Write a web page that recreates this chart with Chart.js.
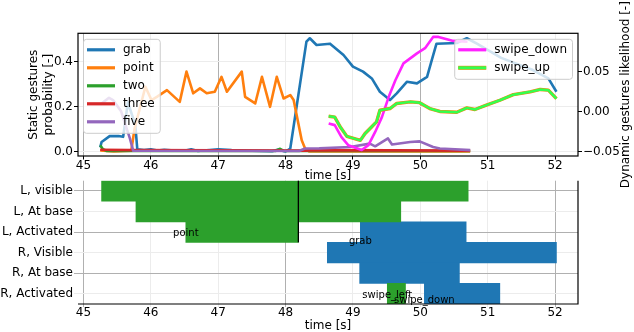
<!DOCTYPE html>
<html><head><meta charset="utf-8">
<script src="https://cdn.jsdelivr.net/npm/chart.js@4"></script>
<style>
html,body{margin:0;padding:0;background:#fff;}
#wrap{position:relative;width:634px;height:332px;background:#fff;}
canvas{position:absolute;left:0;top:0;}
</style></head><body>
<div id="wrap"><canvas id="top" width="634" height="332"></canvas><canvas id="bot" width="634" height="332"></canvas></div>
<script>
// ---------- tick labels ----------
const xTicks = [45, 46, 47, 48, 49, 50, 51, 52];
const xMajorTop = [45, 47, 50];
const xMajorBottom = [45, 48, 52];
const yTicksLeft = [0, 0.2, 0.4];
const yTicksRight = [-0.05, 0, 0.05];

// ---------- static gestures (left axis) ----------
const grabT = [45.25,45.27,45.39,45.52,45.59,45.66,45.77,45.80,45.9,46.0,46.1,46.2,46.35,46.5,46.6,46.7,47.0,47.2,47.5,47.8,47.88,48.0,48.07,48.31,48.36,48.46,48.66,48.86,49.0,49.15,49.28,49.40,49.55,49.65,49.8,49.95,50.1,50.17,50.24,50.54,50.69,50.84,51.2,51.67,51.9,52.02];
const grabV = [0.02,0.044,0.07,0.071,0.067,0.22,0.12,0.012,0.008,0.012,0.006,0.01,0.006,0.005,0.012,0.004,0.012,0.008,0.005,0.003,0.01,0.002,0.015,0.489,0.504,0.474,0.48,0.43,0.378,0.356,0.326,0.267,0.23,0.26,0.311,0.304,0.333,0.407,0.48,0.483,0.504,0.48,0.417,0.363,0.326,0.267];

const pointT = [45.25,45.45,45.71,45.76,45.92,46.01,46.09,46.24,46.43,46.53,46.63,46.73,46.83,46.95,47.05,47.13,47.35,47.4,47.55,47.65,47.77,47.87,47.97,48.07,48.12,48.24,48.29,48.35,50.74];
const pointV = [0.007,0.002,0.005,0.104,0.289,0.23,0.244,0.274,0.222,0.356,0.26,0.282,0.26,0.267,0.333,0.267,0.356,0.244,0.215,0.333,0.2,0.333,0.237,0.252,0.23,0.052,0.015,0.002,0.002];

const twoT = [45.25,45.29,45.35,47.85,47.92,47.98,50.74];
const twoV = [0.03,0.012,0.004,0.004,0.014,0.004,0.004];

const threeT = [45.25,45.7,48.3,48.4,50.74];
const threeV = [0.01,0.008,0.006,0.008,0.006];

const fiveT = [45.25,45.38,45.44,45.56,45.61,45.69,45.74,48.2,48.29,48.5,48.96,49.25,49.33,49.52,49.58,49.85,49.99,50.19,50.29,50.74];
const fiveV = [0.21,0.24,0.23,0.18,0.133,0.06,0.005,0.004,0.015,0.016,0.022,0.037,0.025,0.06,0.033,0.044,0.047,0.022,0.015,0.008];

// ---------- dynamic gestures (right axis) ----------
const swipeDownT = [48.64,48.73,48.83,48.93,49.13,49.23,49.33,49.43,49.53,49.63,49.75,49.95,50.07,50.19,50.27,50.49,50.7];
const swipeDownV = [-0.015,-0.017,-0.032,-0.042,-0.048,-0.042,-0.0255,-0.007,0.018,0.039,0.06,0.0725,0.079,0.093,0.093,0.088,0.087];

const swipeUpT = [48.64,48.73,48.81,48.91,49.11,49.18,49.28,49.35,49.40,49.55,49.65,49.85,49.99,50.14,50.29,50.54,50.69,50.81,50.98,51.18,51.38,51.63,51.78,51.9,52.02];
const swipeUpV = [-0.006,-0.007,-0.019,-0.031,-0.036,-0.0275,-0.019,-0.013,0.0016,0.0037,0.01,0.012,0.011,0.0037,0.0,-0.001,0.0045,0.0025,0.008,0.014,0.021,0.0245,0.0275,0.0266,0.016];

// ---------- state timeline (bottom) ----------
const categories = ['L, visible', 'L, At base', 'L, Activated', 'R, Visible', 'R, At base', 'R, Activated'];
const greenStart = [45.27, 45.78, 46.52, null, null, 49.51];
const greenEnd   = [50.71, 49.71, 48.19, null, null, 49.78];
const blueStart  = [null, null, 49.11, 48.62, 49.10, 50.06];
const blueEnd    = [null, null, 50.68, 52.02, 50.58, 51.18];
const eventNames = ['point', 'grab', 'swipe_left', 'swipe_down'];
const eventTimes = [46.52, 49.11, 49.51, 50.06];
const eventRows  = [2, 2, 5, 5];
const markerTime = 48.19;
const markerLastRow = 2;

// ---------- helpers ----------
const FONT = "'DejaVu Sans', 'Liberation Sans', sans-serif";
Chart.defaults.font.family = FONT;
Chart.defaults.font.size = 12;
Chart.defaults.color = '#000';
const GRID_MAJOR = '#b0b0b0';
const GRID_MINOR = '#ececec';
const xy = (t, v) => t.map((x, i) => ({x: x, y: v[i]}));
const fmtMinus = s => s.replace('-', '\u2212');

function line(label, t, v, color, axis, order, width) {
  return {label, data: xy(t, v), borderColor: color, backgroundColor: color,
    borderWidth: width || 2.6, pointRadius: 0, yAxisID: axis, order,
    tension: 0, fill: false, borderJoinStyle: 'round', borderCapStyle: 'butt'};
}

const topDatasets = [
  line('swipe_up', swipeUpT, swipeUpV, '#33ff4d', 'y2', 0, 2.5),
  Object.assign(line('swipe_up', swipeUpT, swipeUpV, '#ff7f0e', 'y2', 1, 3.4), {outlineOnly: true}),
  line('swipe_down', swipeDownT, swipeDownV, '#ff22ff', 'y2', 2),
  line('five', fiveT, fiveV, '#9467bd', 'y', 3),
  line('three', threeT, threeV, '#d62728', 'y', 4),
  line('two', twoT, twoV, '#2ca02c', 'y', 5),
  line('point', pointT, pointV, '#ff7f0e', 'y', 6),
  line('grab', grabT, grabV, '#1f77b4', 'y', 7),
];

function roundRectPath(ctx, x, y, w, h, r) {
  ctx.beginPath();
  ctx.moveTo(x + r, y);
  ctx.lineTo(x + w - r, y); ctx.arcTo(x + w, y, x + w, y + r, r);
  ctx.lineTo(x + w, y + h - r); ctx.arcTo(x + w, y + h, x + w - r, y + h, r);
  ctx.lineTo(x + r, y + h); ctx.arcTo(x, y + h, x, y + h - r, r);
  ctx.lineTo(x, y + r); ctx.arcTo(x, y, x + r, y, r);
  ctx.closePath();
}

function drawLegendBox(ctx, x, y, items, alignRight) {
  ctx.save();
  ctx.font = '12px ' + FONT;
  const pad = 4, handle = 28, gap = 8, padR = 5, rowH = 18, padTop = 11;
  const tw = Math.max(...items.map(it => ctx.measureText(it.label).width));
  const w = pad + handle + gap + tw + padR;
  const h = padTop * 2 + rowH * (items.length - 1);
  const left = alignRight ? x - w : x;
  roundRectPath(ctx, left + 0.5, y + 0.5, w, h, 3);
  ctx.fillStyle = 'rgba(255,255,255,0.8)';
  ctx.fill();
  ctx.strokeStyle = '#cccccc';
  ctx.lineWidth = 1;
  ctx.stroke();
  items.forEach((it, i) => {
    const cy = y + padTop + i * rowH;
    const x0 = left + pad, x1 = left + pad + handle;
    if (it.outline) {
      ctx.beginPath(); ctx.moveTo(x0, cy); ctx.lineTo(x1, cy);
      ctx.strokeStyle = it.outline; ctx.lineWidth = 4; ctx.stroke();
    }
    ctx.beginPath(); ctx.moveTo(x0, cy); ctx.lineTo(x1, cy);
    ctx.strokeStyle = it.color; ctx.lineWidth = it.outline ? 3 : 3.2; ctx.stroke();
    ctx.fillStyle = '#000';
    ctx.textBaseline = 'middle';
    ctx.textAlign = 'left';
    ctx.fillText(it.label, x1 + gap, cy);
  });
  ctx.restore();
}

const topDeco = {
  id: 'topDeco',
  afterDatasetsDraw(chart) {
    const ctx = chart.ctx, a = chart.chartArea;
    const ds = chart.data.datasets;
    const find = (lab, outline) => ds.find(d => d.label === lab && !!d.outlineOnly === !!outline);
    const leftItems = ['grab', 'point', 'two', 'three', 'five'].map(l => ({label: l, color: find(l).borderColor}));
    const rightItems = [
      {label: 'swipe_down', color: find('swipe_down').borderColor},
      {label: 'swipe_up', color: find('swipe_up').borderColor, outline: find('swipe_up', true).borderColor}
    ];
    drawLegendBox(ctx, a.left + 5, a.top + 5.5, leftItems, false);
    drawLegendBox(ctx, a.right - 6, a.top + 5.5, rightItems, true);
  },
  afterDraw(chart) {
    const ctx = chart.ctx, a = chart.chartArea;
    ctx.save();
    ctx.strokeStyle = '#000';
    ctx.lineWidth = 1.2;
    ctx.strokeRect(a.left, a.top, a.right - a.left, a.bottom - a.top);
    ctx.translate(626, (a.top + a.bottom) / 2);
    ctx.rotate(-Math.PI / 2);
    ctx.font = '12px ' + FONT;
    ctx.fillStyle = '#000';
    ctx.textAlign = 'center';
    ctx.textBaseline = 'middle';
    ctx.fillText('Dynamic gestures likelihood [-]', 0, 0);
    ctx.restore();
  }
};

new Chart(document.getElementById('top'), {
  type: 'line',
  data: {datasets: topDatasets},
  options: {
    responsive: false, animation: false, events: [],
    layout: {padding: {left: 0, right: 0, top: 33.3, bottom: 149.3}},
    plugins: {legend: {display: false}, tooltip: {enabled: false}},
    scales: {
      x: {
        type: 'linear', min: 44.92, max: 52.34,
        afterBuildTicks: s => { s.ticks = xTicks.map(v => ({value: v})); },
        afterFit: s => { s.height = 26.7; },
        ticks: {callback: v => String(v), maxRotation: 0, autoSkip: false, padding: -1},
        grid: {color: c => xMajorTop.includes(c.tick && c.tick.value) ? GRID_MAJOR : GRID_MINOR, tickColor: '#000', tickLength: 3.5, lineWidth: 1},
        border: {display: false},
        title: {display: true, text: 'time [s]', padding: 0, font: {size: 12}}
      },
      y: {
        type: 'linear', position: 'left', min: -0.018, max: 0.526,
        afterBuildTicks: s => { s.ticks = yTicksLeft.map(v => ({value: v})); },
        afterFit: s => { s.width = 78; },
        ticks: {callback: v => v.toFixed(1), padding: 1},
        grid: {color: GRID_MINOR, tickColor: '#000', tickLength: 4},
        border: {display: false},
        title: {display: true, text: ['Static gestures', 'probability [-]'], padding: {top: 26, bottom: 0}, font: {size: 12, lineHeight: 1.25}}
      },
      y2: {
        type: 'linear', position: 'right', min: -0.0555, max: 0.0975,
        afterBuildTicks: s => { s.ticks = yTicksRight.map(v => ({value: v})); },
        afterFit: s => { s.width = 56; },
        ticks: {callback: v => fmtMinus(v.toFixed(2)), padding: 1},
        grid: {drawOnChartArea: false, tickColor: '#000', tickLength: 4},
        border: {display: false}
      }
    }
  },
  plugins: [topDeco]
});

// ---------- bottom chart ----------
const rangeOf = (s, e) => s.map((v, i) => v === null ? null : [v, e[i]]);

const botDeco = {
  id: 'botDeco',
  afterDatasetsDraw(chart) {
    const ctx = chart.ctx, a = chart.chartArea;
    const xs = chart.scales.x, ys = chart.scales.y;
    ctx.save();
    ctx.strokeStyle = '#000';
    ctx.lineWidth = 1.3;
    const px = xs.getPixelForValue(markerTime);
    ctx.beginPath();
    ctx.moveTo(px, a.top);
    ctx.lineTo(px, ys.getPixelForValue(markerLastRow + 0.5));
    ctx.stroke();
    ctx.restore();
  },
  afterDraw(chart) {
    const ctx = chart.ctx, a = chart.chartArea;
    const xs = chart.scales.x, ys = chart.scales.y;
    ctx.save();
    ctx.strokeStyle = '#000';
    ctx.lineWidth = 1.2;
    ctx.beginPath();
    ctx.moveTo(a.right, a.top);
    ctx.lineTo(a.right, a.bottom);
    ctx.lineTo(a.left, a.bottom);
    ctx.stroke();
    const dy = [1, 9, 1.5, 7];
    ctx.font = '10px ' + FONT;
    ctx.fillStyle = '#000';
    ctx.textAlign = 'center';
    ctx.textBaseline = 'middle';
    eventNames.forEach((n, i) => {
      ctx.fillText(n, xs.getPixelForValue(eventTimes[i]), ys.getPixelForValue(eventRows[i]) + dy[i]);
    });
    ctx.restore();
  }
};

new Chart(document.getElementById('bot'), {
  type: 'bar',
  data: {
    labels: categories,
    datasets: [
      {label: 'left', data: rangeOf(greenStart, greenEnd), backgroundColor: '#2ca02c', borderWidth: 0, grouped: false, categoryPercentage: 1, barPercentage: 1},
      {label: 'right', data: rangeOf(blueStart, blueEnd), backgroundColor: '#1f77b4', borderWidth: 0, grouped: false, categoryPercentage: 1, barPercentage: 1}
    ]
  },
  options: {
    indexAxis: 'y',
    responsive: false, animation: false, events: [],
    layout: {padding: {left: 0, right: 56, top: 180.7, bottom: 0}},
    plugins: {legend: {display: false}, tooltip: {enabled: false}},
    scales: {
      x: {
        type: 'linear', min: 44.92, max: 52.34, z: 1,
        afterBuildTicks: s => { s.ticks = xTicks.map(v => ({value: v})); },
        afterFit: s => { s.height = 28; },
        ticks: {callback: v => String(v), maxRotation: 0, autoSkip: false, padding: -1},
        grid: {color: c => xMajorBottom.includes(c.tick && c.tick.value) ? GRID_MAJOR : GRID_MINOR, tickLength: 3},
        border: {display: false},
        title: {display: true, text: 'time [s]', padding: 0, font: {size: 12, lineHeight: 1}}
      },
      y: {
        type: 'category', offset: true, z: 1,
        afterFit: s => { s.width = 78; },
        ticks: {padding: 1, autoSkip: false},
        grid: {color: c => (c.index % 2 === 0) ? GRID_MAJOR : GRID_MINOR, tickLength: 4, offset: false},
        border: {display: false}
      }
    }
  },
  plugins: [botDeco]
});
</script>
</body></html>
